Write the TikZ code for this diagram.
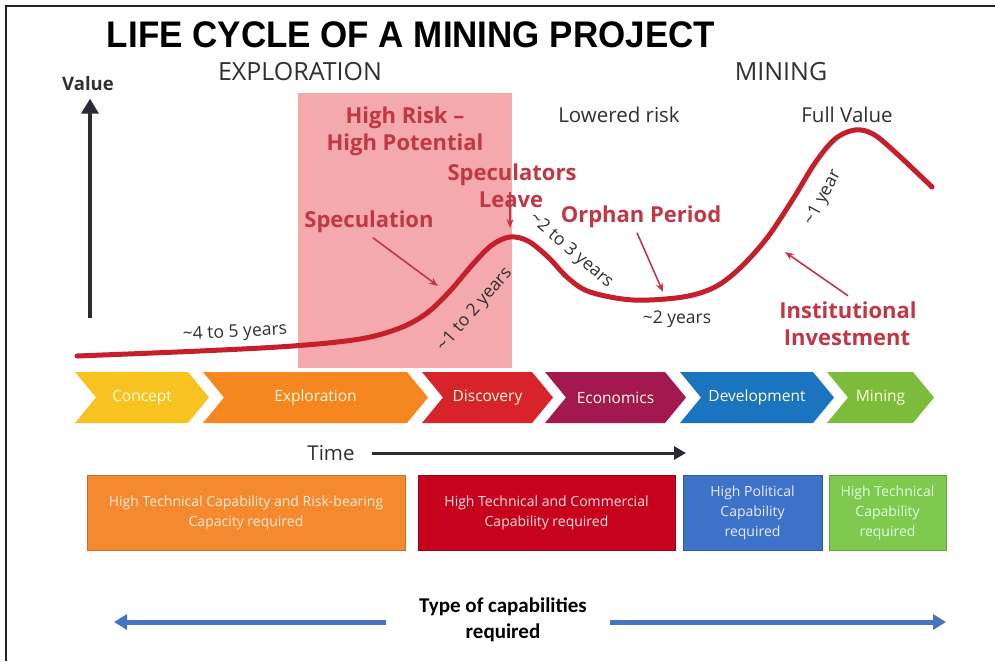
\documentclass[tikz,border=0pt]{standalone}
\usepackage{fontspec}
\usepackage{graphicx}
\setmainfont{Open Sans}
\newfontfamily\titlefont{Liberation Sans}
\newfontfamily\capfont{Carlito}
\usetikzlibrary{arrows.meta}

\definecolor{framegray}{HTML}{222222}
\definecolor{riskpink}{HTML}{F4A9AD}
\definecolor{curvered}{HTML}{C51F2C}
\definecolor{notered}{HTML}{C03844}
\definecolor{darktext}{HTML}{303030}
\definecolor{axisdark}{HTML}{2A2A38}
\definecolor{chyellow}{HTML}{F8C320}
\definecolor{chorange}{HTML}{F6861F}
\definecolor{chred}{HTML}{D8232B}
\definecolor{chmaroon}{HTML}{A3184F}
\definecolor{chblue}{HTML}{1B74C0}
\definecolor{chgreen}{HTML}{7DBC3B}
\definecolor{boxorange}{HTML}{F5892F}
\definecolor{boxred}{HTML}{C6021C}
\definecolor{boxblue}{HTML}{3D72C9}
\definecolor{boxgreen}{HTML}{80C94F}
\definecolor{capblue}{HTML}{4674C2}

\tikzset{
  note/.style={text=notered, font=\fontsize{22}{26}\selectfont\bfseries, align=center},
  plain/.style={text=darktext, font=\fontsize{20.5}{24}\selectfont},
  phase/.style={text=darktext, font=\fontsize{25}{30}\selectfont},
  dur/.style={text=darktext, font=\fontsize{17.5}{20}\selectfont, inner sep=1pt},
  pointer/.style={draw=notered, line width=1.6pt, -{Stealth[length=9pt,width=7pt]}},
  chevlabel/.style={text=white!88!yellow, font=\fontsize{15.5}{18}\selectfont},
  capbox/.style={minimum height=75pt, inner sep=4pt, align=center,
    font=\fontsize{14}{20}\selectfont},
  caparrow/.style={draw=capblue, line width=5pt, -{Triangle[length=13pt,width=15pt]}}
}

% one stage of the process bar: left edge, flat right edge, colour, name, label
\newcommand\stagechev[5]{%
  \fill[#3] (#1,372) -- (#2,372) -- (#2+21,397.5) -- (#2,423) -- (#1,423)
    -- (#1+21,397.5) -- cycle;
  \node[chevlabel] (#4) at ({(#1+#2)/2+10.5},397.5) {#5};
}

\begin{document}
\begin{tikzpicture}[x=1pt,y=-1pt]
\useasboundingbox (0,0) rectangle (995,661);
\fill[white] (0,0) rectangle (995,661);
\draw[line width=2pt, framegray] (6,661) -- (6,6) -- (995,6);

% title and phase headings
\node[font=\titlefont\bfseries\fontsize{37}{40}\selectfont, anchor=base] (title)
  at (411,48) {\scalebox{0.945}[1]{LIFE CYCLE OF A MINING PROJECT}};
\node[phase, anchor=base] (hexpl) at (300,81) {EXPLORATION};
\node[phase, anchor=base] (hmine) at (781,81) {MINING};

% high risk zone
\fill[riskpink] (298,93) rectangle (512,368);

% value axis
\node[anchor=base, text=darktext, font=\fontsize{18.5}{22}\selectfont\bfseries] (value)
  at (88,90) {Value};
\coordinate (axisbot) at (90,318);
\draw[axisdark, line width=4pt, -{Triangle[length=15pt,width=17pt]}]
  (axisbot) -- ([yshift=-5pt]value.south -| axisbot);

% value curve
\draw[curvered, line width=5pt, line cap=round] plot[smooth, tension=0.55] coordinates {
  (77,356) (200,351) (293,346) (360,339) (400,328) (427,313) (450,291)
  (473,264) (492,245) (510,237) (528,241) (548,257) (568,278) (590,292)
  (633,300) (683,297) (715,287) (740,268) (767,238) (793,199) (815,163)
  (835,139) (855,130) (873,134) (895,152) (932,187)};

% points on the curve
\coordinate (cspec) at (438,286);
\coordinate (cpeak) at (510,228);
\coordinate (corphan) at (663,292);
\coordinate (cinst) at (785,252);

% annotations
\node[note, anchor=base] (risk1) at (405,123) {High Risk --};
\node[note, anchor=base] (risk2) at (405,150) {High Potential};
\node[note, anchor=base] (spec) at (369,227) {Speculation};
\node[note, anchor=base] (leave1) at (512,180) {Speculators};
\node[note, anchor=base] (leave2) at (511,207) {Leave};
\node[note, anchor=base] (orphan) at (641,222) {Orphan Period};
\node[note, anchor=base] (inst1) at (848,318) {Institutional};
\node[note, anchor=base] (inst2) at (847,345) {Investment};
\node[plain, anchor=base] (lowered) at (619,122) {Lowered risk};
\node[plain, anchor=base] (fullval) at (847,122) {Full Value};

\draw[pointer] ([xshift=4pt,yshift=-2pt]spec.south) -- (cspec);
\draw[pointer] ([yshift=-3pt]leave1.south -| cpeak) -- (cpeak);
\draw[pointer] ([xshift=-4pt,yshift=-2pt]orphan.south) -- (corphan);
\draw[pointer] ([yshift=2pt]inst1.north) -- (cinst);

% durations along the curve
\node[dur, rotate=3] (d45) at (235,333) {\textasciitilde4 to 5 years};
\node[dur, rotate=49] (d12) at (475,310) {\textasciitilde1 to 2 years};
\node[dur, rotate=-41] (d23) at (571,251) {\textasciitilde2 to 3 years};
\node[dur] (d2) at (677,319) {\textasciitilde2 years};
\node[dur, rotate=62] (d1) at (823,198) {\textasciitilde1 year};

% process stages
\stagechev{75}{188}{chyellow}{sconcept}{Concept}
\stagechev{203}{407}{chorange}{sexpl}{Exploration}
\stagechev{422}{532}{chred}{sdisc}{Discovery}
\stagechev{545}{665}{chmaroon}{secon}{Economics}
\stagechev{680}{813}{chblue}{sdev}{Development}
\stagechev{827}{913}{chgreen}{smine}{Mining}

% time axis
\node[plain, anchor=base] (time) at (331,460) {Time};
\coordinate (timeend) at (686,453);
\draw[axisdark, line width=3pt, -{Triangle[length=12pt,width=13pt]}]
  (372,453) -- (timeend);

% required capabilities
\node[capbox, fill=boxorange, draw=boxorange!80!black, text=orange!15, minimum width=318pt]
  (cap1) at (246,512.5) {High Technical Capability and Risk-bearing\\Capacity required};
\node[capbox, fill=boxred, draw=boxred!80!black, text=red!12, minimum width=257pt]
  (cap2) at (546.5,512.5) {High Technical and Commercial\\Capability required};
\node[capbox, fill=boxblue, draw=boxblue!80!black, text=blue!8, minimum width=139pt]
  (cap3) at (752.5,512.5) {High Political\\Capability\\required};
\node[capbox, fill=boxgreen, draw=boxgreen!80!black, text=green!12, minimum width=117pt]
  (cap4) at (887.5,512.5) {High Technical\\Capability\\required};

% capability range
\node[font=\capfont\bfseries\fontsize{21}{26}\selectfont, align=center] (captype)
  at (503,620) {Type of capabilities\\required};
\coordinate (capleft) at (114,622);
\coordinate (capright) at (946,622);
\draw[caparrow] (386,622) -- (capleft);
\draw[caparrow] (610,622) -- (capright);
\end{tikzpicture}
\end{document}
